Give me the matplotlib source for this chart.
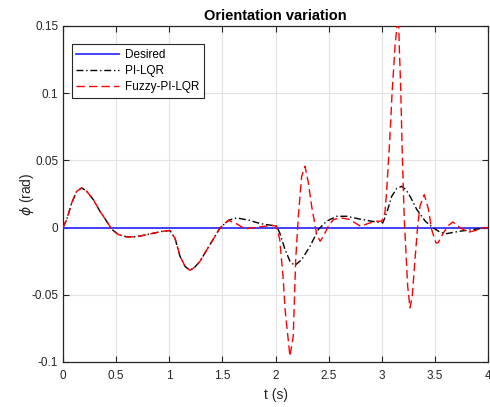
import numpy as np
import matplotlib
matplotlib.use('Agg')
import matplotlib.pyplot as plt

plt.rcParams['font.family'] = ['Liberation Sans', 'DejaVu Sans']
plt.rcParams['mathtext.fontset'] = 'dejavusans'

# shared start (both controllers identical up to ~1.5 s)
t_common = [0, 0.035, 0.082, 0.129, 0.176, 0.223, 0.285, 0.348, 0.411, 0.458,
            0.52, 0.6, 0.69, 0.82, 0.944, 1.007, 1.054, 1.101, 1.15, 1.195,
            1.24, 1.289, 1.384, 1.478]
phi_common = [0, 0.006, 0.0184, 0.027, 0.0295, 0.027, 0.0208, 0.0121, 0.0047, -0.0012,
              -0.0052, -0.0069, -0.0069, -0.0047, -0.0027, -0.0022, -0.008, -0.0213, -0.029, -0.0318,
              -0.0295, -0.0251, -0.0126, -0.0002]

# PI-LQR tail
t_lqr = [1.56, 1.635, 1.75, 1.854, 1.95, 2.01, 2.04, 2.09, 2.136, 2.18,
         2.247, 2.325, 2.403, 2.48, 2.576, 2.67, 2.8, 2.9, 3.01, 3.047,
         3.094, 3.14, 3.188, 3.23, 3.266, 3.33, 3.41, 3.485, 3.55, 3.61,
         3.736, 3.86, 4.0]
phi_lqr = [0.0055, 0.0072, 0.0055, 0.003, 0.0018, 0.001, -0.004, -0.0164, -0.025, -0.0283,
           -0.0238, -0.0139, -0.0015, 0.0047, 0.0084, 0.0084, 0.0062, 0.0048, 0.0035, 0.011,
           0.0233, 0.029, 0.0307, 0.028, 0.0233, 0.0134, 0.0047, -0.0002, -0.0035, -0.0045,
           -0.0027, -0.0015, 0]

# Fuzzy-PI-LQR tail
t_fuzzy = [1.556, 1.63, 1.713, 1.8, 1.964, 2.01, 2.04, 2.073, 2.09, 2.136,
           2.167, 2.19, 2.215, 2.246, 2.278, 2.31, 2.34, 2.388, 2.42, 2.45,
           2.497, 2.545, 2.62, 2.7, 2.8, 2.89, 2.95, 3.0, 3.03, 3.047,
           3.06, 3.07, 3.085, 3.097, 3.11, 3.125, 3.146, 3.158, 3.165, 3.178,
           3.193, 3.212, 3.228, 3.244, 3.266, 3.287, 3.313, 3.338, 3.36, 3.40,
           3.44, 3.47, 3.51, 3.53, 3.58, 3.626, 3.67, 3.736, 3.815, 3.89,
           3.96, 4.0]
phi_fuzzy = [0.0054, 0.003, -0.001, 0.0, 0.0017, 0.001, -0.009, -0.0387, -0.061, -0.0957,
             -0.081, -0.024, 0.0084, 0.038, 0.0456, 0.033, 0.016, -0.0052, -0.0102, -0.0065,
             0.001, 0.006, 0.0072, 0.006, 0.001, 0.0035, 0.0047, 0.0047, 0.011, 0.028,
             0.0456, 0.058, 0.08, 0.1, 0.116, 0.135, 0.152, 0.156, 0.135, 0.105,
             0.0556, 0.006, -0.0188, -0.0437, -0.0598, -0.0511, -0.0238, 0.001, 0.016, 0.0246,
             0.0134, -0.0015, -0.0114, -0.0114, -0.004, 0.0015, 0.0042, 0.0, -0.0035, -0.002,
             0.0, 0.0]

t_desired = [0, 4]
phi_desired = [0, 0]

xticks = [0, 0.5, 1, 1.5, 2, 2.5, 3, 3.5, 4]
xticklabels = ['0', '0.5', '1', '1.5', '2', '2.5', '3', '3.5', '4']
yticks = [-0.1, -0.05, 0, 0.05, 0.1, 0.15]
yticklabels = ['-0.1', '-0.05', '0', '0.05', '0.1', '0.15']

t_pi = np.array(t_common + t_lqr)
p_pi = np.array(phi_common + phi_lqr)
t_fz = np.array(t_common + t_fuzzy)
p_fz = np.array(phi_common + phi_fuzzy)

axcol = '#262626'
fig = plt.figure(figsize=(4.9, 4.07), dpi=100)
ax = fig.add_axes([0.1286, 0.1106, 0.8673, 0.8256])

ax.plot(t_desired, phi_desired, color='#3333ff', lw=1.3, label='Desired', zorder=3)
ax.plot(t_pi, p_pi, color='black', lw=1.0, ls=(0, (5, 2, 1, 2)), label='PI-LQR', zorder=4)
ax.plot(t_fz, p_fz, color='red', lw=1.0, ls=(0, (6, 3)), label='Fuzzy-PI-LQR', zorder=5)

ax.set_xlim(0, 4)
ax.set_ylim(-0.1, 0.15)
ax.set_xticks(xticks)
ax.set_xticklabels(xticklabels)
ax.set_yticks(yticks)
ax.set_yticklabels(yticklabels)
ax.grid(True, color='#e3e3e3', lw=0.8)
ax.set_axisbelow(True)
ax.tick_params(direction='in', length=4, width=0.8, colors=axcol, labelsize=8.5,
               top=True, right=True, labelcolor=axcol)
ax.tick_params(axis='x', pad=6)
for s in ax.spines.values():
    s.set_color(axcol)
    s.set_linewidth(0.9)

ax.set_xlabel('t (s)', fontsize=10, color=axcol, labelpad=4)
ax.set_ylabel(r'$\phi$ (rad)', fontsize=10, color=axcol)
ax.yaxis.set_label_coords(-0.064, 0.5)
ax.set_title('Orientation variation', fontsize=10.5, fontweight='bold', pad=4)

leg = ax.legend(loc='upper left', bbox_to_anchor=(0.02, 0.945), fontsize=8.5,
                fancybox=False, edgecolor=axcol, framealpha=1, handlelength=3.6,
                borderpad=0.4, labelspacing=0.35, handletextpad=0.5, borderaxespad=0)
leg.get_frame().set_linewidth(0.8)

fig.savefig('out.png', dpi=100)
